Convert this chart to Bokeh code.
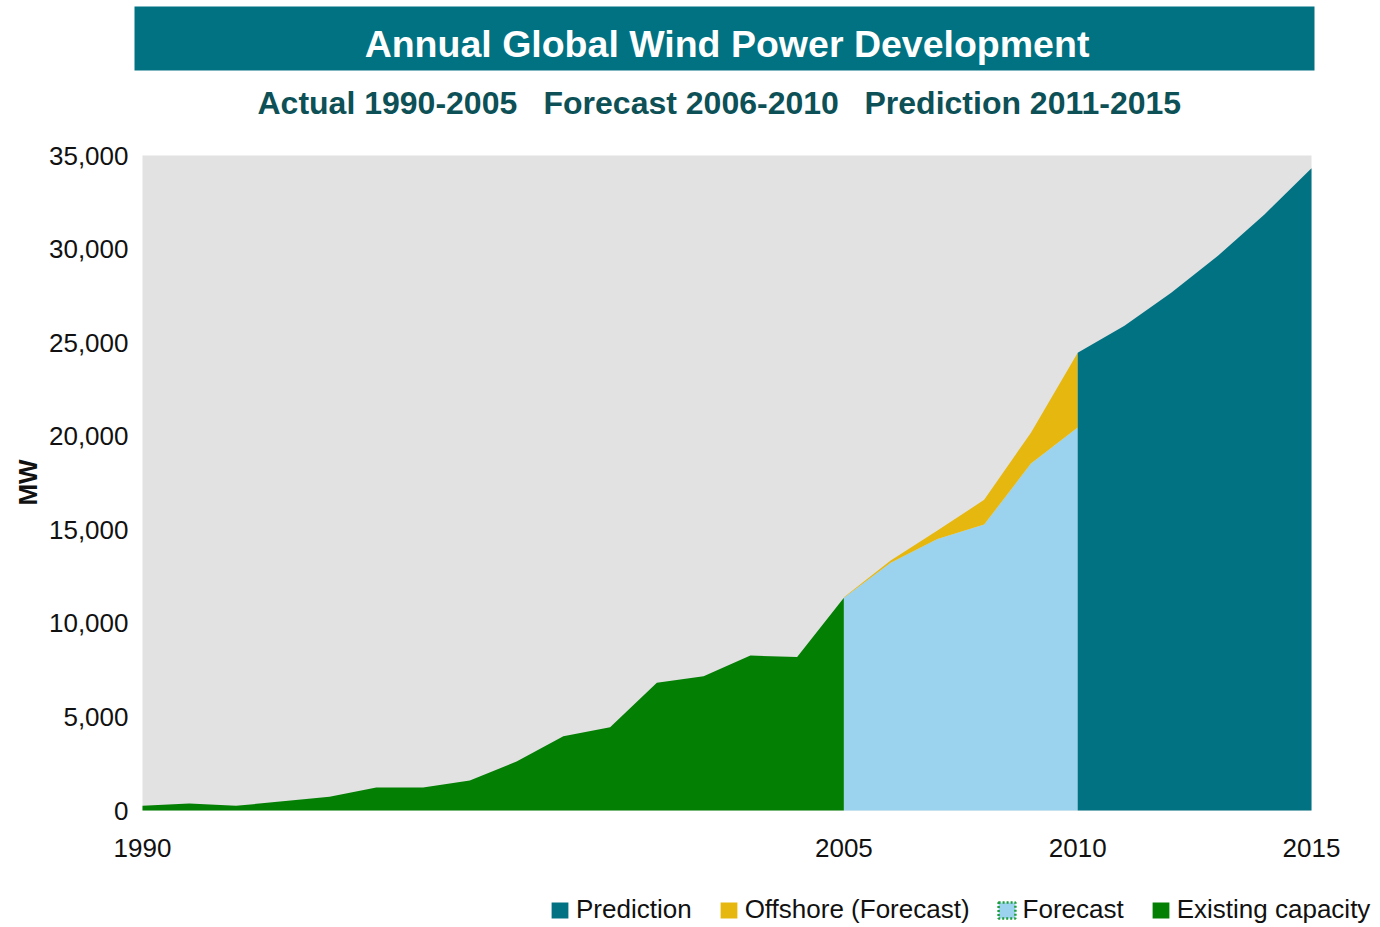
import math
from bokeh.plotting import figure
from bokeh.models import (Range1d, FixedTicker, NumeralTickFormatter, Label,
                          Legend, LegendItem, BoxAnnotation)
from bokeh.embed import file_html
from bokeh.resources import INLINE

# ---------------- data ----------------
TITLE = "Annual Global Wind Power Development"
SUBTITLES = ["Actual 1990-2005", "Forecast 2006-2010", "Prediction 2011-2015"]
Y_LABEL = "MW"

years_actual = [1990, 1991, 1992, 1993, 1994, 1995, 1996, 1997,
                1998, 1999, 2000, 2001, 2002, 2003, 2004, 2005]
existing_capacity = [250, 370, 250, 490, 730, 1230, 1230, 1600,
                     2620, 3970, 4450, 6820, 7180, 8280, 8200, 11370]

years_forecast = [2005, 2006, 2007, 2008, 2009, 2010]
forecast = [11370, 13240, 14510, 15280, 18540, 20460]
offshore_forecast = [30, 120, 450, 1320, 1650, 4000]

years_prediction = [2010, 2011, 2012, 2013, 2014, 2015]
prediction = [24460, 25900, 27670, 29640, 31860, 34320]

x_ticks = [1990, 2005, 2010, 2015]
y_ticks = [0, 5000, 10000, 15000, 20000, 25000, 30000, 35000]

series_names = ["Prediction", "Offshore (Forecast)", "Forecast", "Existing capacity"]

# ---------------- style ----------------
TEAL = "#007282"
YELLOW = "#E6B80F"
LIGHTBLUE = "#9BD2EE"
GREEN = "#037F03"
DASHGREEN = "#1E9E3A"
DARK = "#0D5157"
BG = "#E2E2E2"
TXT = "#111111"
FONT = "Liberation Sans"

W, H = 1380, 927
PLOT_L, PLOT_R, PLOT_T, PLOT_B = 142, 1311, 155, 810     # grey plot area (px)
X0, X1 = x_ticks[0], x_ticks[-1]
Y0, Y1 = y_ticks[0], y_ticks[-1]
px_per_year = (PLOT_R - PLOT_L) / (X1 - X0)
px_per_mw = (PLOT_B - PLOT_T) / (Y1 - Y0)


def dx(px):
    return X0 + (px - PLOT_L) / px_per_year


def dy(py):
    return Y0 + (PLOT_B - py) / px_per_mw


p = figure(width=W, height=H, x_range=Range1d(dx(0), dx(W)),
           y_range=Range1d(dy(H), dy(0)),
           output_backend="svg", toolbar_location=None, tools="",
           min_border=0, background_fill_color="white",
           border_fill_color="white", outline_line_color=None)
p.grid.visible = False

# grey plot area
p.add_layout(BoxAnnotation(left=X0, right=X1, bottom=Y0, top=Y1,
                           fill_color=BG, fill_alpha=1, line_color=None,
                           level="underlay"))

r_exist = p.varea(x=years_actual, y1=0, y2=existing_capacity, fill_color=GREEN)
r_fore = p.varea(x=years_forecast, y1=0, y2=forecast, fill_color=LIGHTBLUE)
stack_top = [a + b for a, b in zip(forecast, offshore_forecast)]
r_off = p.varea(x=years_forecast, y1=forecast, y2=stack_top, fill_color=YELLOW)
r_pred = p.varea(x=years_prediction, y1=0, y2=prediction, fill_color=TEAL)
# legend-only key for the Forecast series (light blue with dotted green border);
# a single undefined vertex, so nothing is drawn in the plot itself
r_fore_key = p.patch(x=[float("nan")], y=[float("nan")], fill_color=LIGHTBLUE,
                     line_color=DASHGREEN, line_width=2.5, line_dash="2 2")

# axes pinned to the plot area's edges
p.xaxis.fixed_location = Y0
p.yaxis.fixed_location = X0
p.xaxis.ticker = FixedTicker(ticks=x_ticks)
p.yaxis.ticker = FixedTicker(ticks=y_ticks)
p.yaxis.formatter = NumeralTickFormatter(format="0,0")
for ax in p.axis:
    ax.axis_line_color = None
    ax.major_tick_line_color = None
    ax.minor_tick_line_color = None
    ax.major_tick_out = 0
    ax.major_tick_in = 0
    ax.major_label_text_font = FONT
    ax.major_label_text_font_size = "26px"
    ax.major_label_text_color = TXT
p.xaxis.major_label_standoff = 28
p.yaxis.major_label_standoff = 14

p.add_layout(Label(x=dx(27), y=dy(482), text=Y_LABEL, angle=math.pi / 2,
                   text_font=FONT, text_font_style="bold",
                   text_font_size="26px", text_color=TXT,
                   text_align="center", text_baseline="middle"))

# title banner
p.add_layout(BoxAnnotation(left=dx(134), right=dx(1314), bottom=dy(70),
                           top=dy(6), fill_color=TEAL, fill_alpha=1,
                           line_color=None))
p.add_layout(Label(x=dx(726.5), y=dy(43.5), text=TITLE, text_font=FONT,
                   text_font_style="bold", text_font_size="37.5px",
                   text_color="white", text_align="center",
                   text_baseline="middle"))

# subtitle pieces
sub_x = [257, 543, 864]
for sx, txt in zip(sub_x, SUBTITLES):
    p.add_layout(Label(x=dx(sx), y=dy(102.5), text=txt, text_font=FONT,
                       text_font_style="bold", text_font_size="32px",
                       text_color=DARK, text_align="left",
                       text_baseline="middle"))

legend = Legend(items=[LegendItem(label=series_names[0], renderers=[r_pred]),
                       LegendItem(label=series_names[1], renderers=[r_off]),
                       LegendItem(label=series_names[2], renderers=[r_fore_key]),
                       LegendItem(label=series_names[3], renderers=[r_exist])],
                location=(549, 2), orientation="horizontal",
                padding=0, margin=0, spacing=26,
                glyph_width=21, glyph_height=20, label_standoff=6,
                label_text_font=FONT, label_text_font_size="26px",
                label_text_color=TXT,
                border_line_color=None, background_fill_alpha=0)
p.add_layout(legend)

open("out.html", "w").write(file_html(p, INLINE))
